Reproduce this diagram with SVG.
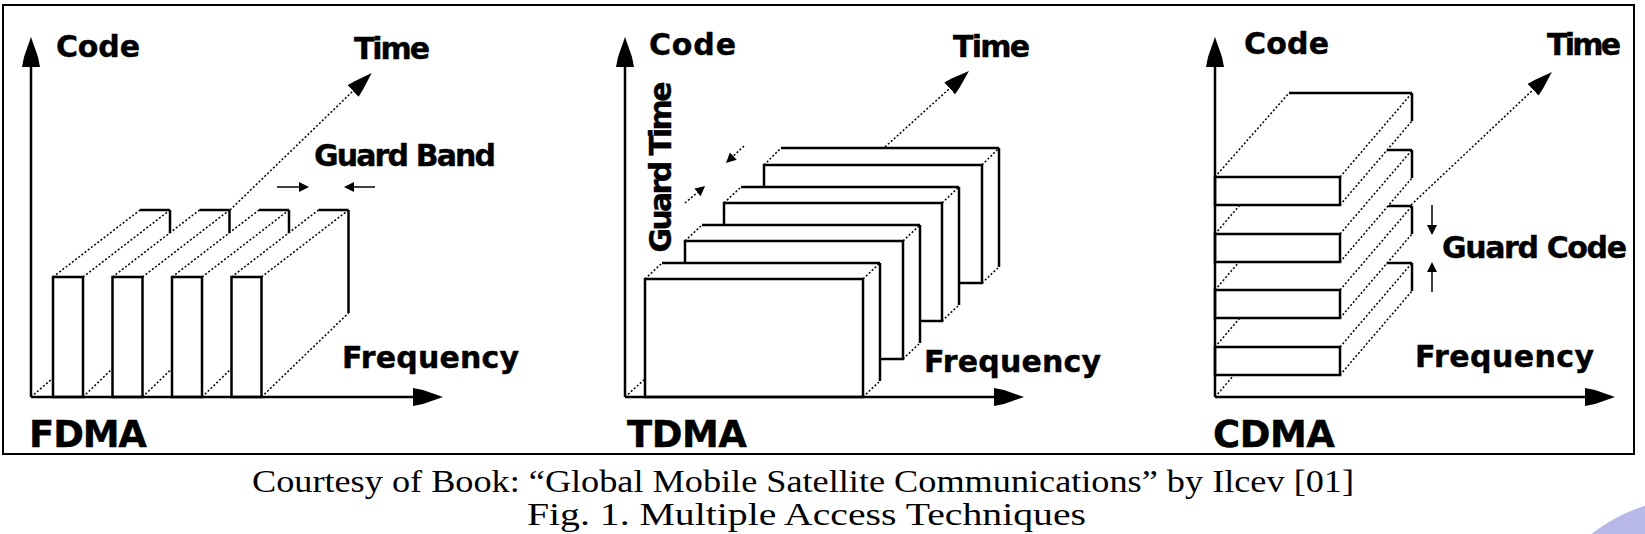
<svg xmlns="http://www.w3.org/2000/svg" width="1645" height="534" viewBox="0 0 1645 534">
<style>
.solid{stroke:#000;stroke-width:2.5;fill:none}
.ax{stroke:#000;stroke-width:2.5;fill:none}
.thin{stroke:#000;stroke-width:1.5;fill:none}
.dot{stroke:#000;stroke-width:1.5;stroke-dasharray:2 2;fill:none}
.face{fill:#fff;stroke:none}
.lbl{font-family:"DejaVu Sans",sans-serif;font-weight:bold;font-size:30px;fill:#000;stroke:#000;stroke-width:0.4}
.big{font-size:37px}
.cap{font-family:"Liberation Serif",serif;fill:#000}
</style>
<defs>
<marker id="axh" markerUnits="userSpaceOnUse" markerWidth="32" markerHeight="20" viewBox="0 -10 32 20" refX="0" refY="0" orient="auto"><path d="M0,-9 L10,-7 L30,0 L10,7 L0,9 Z" fill="#000"/></marker>
<marker id="tmh" markerUnits="userSpaceOnUse" markerWidth="28" markerHeight="18" viewBox="0 -9 28 18" refX="0" refY="0" orient="auto"><path d="M0,-8 L8,-6 L26,0 L8,6 L0,8 Z" fill="#000"/></marker>
<marker id="sh" markerUnits="userSpaceOnUse" markerWidth="12" markerHeight="12" viewBox="0 -6 12 12" refX="0" refY="0" orient="auto"><path d="M0,-5 L10,0 L0,5 Z" fill="#000"/></marker>
</defs>
<rect x="0" y="0" width="1645" height="534" fill="#fff"/>
<circle cx="1700" cy="675" r="178" fill="#b8b8e8"/>
<rect id="frame" x="3" y="5" width="1631" height="449" fill="#fff" stroke="#000" stroke-width="2"/>

<!-- FDMA -->
<g id="fdma">
<line class="dot" x1="31" y1="397" x2="53" y2="378"/>
<g id="fdma-box1">
<polygon class="face" points="53,397 53,277 140,210 170,210 170,313 83,397"/>
<line class="dot" x1="83" y1="397" x2="170" y2="313"/>
<line class="dot" x1="53" y1="277" x2="140" y2="210"/>
<line class="dot" x1="83" y1="277" x2="170" y2="210"/>
<line class="solid" x1="140" y1="210" x2="170" y2="210"/>
<line class="solid" x1="170" y1="210" x2="170" y2="313"/>
<rect class="solid" x="53" y="277" width="30" height="120"/>
</g>
<g id="fdma-box2">
<polygon class="face" points="112.5,397 112.5,277 199.5,210 229.5,210 229.5,313 142.5,397"/>
<line class="dot" x1="142.5" y1="397" x2="229.5" y2="313"/>
<line class="dot" x1="112.5" y1="277" x2="199.5" y2="210"/>
<line class="dot" x1="142.5" y1="277" x2="229.5" y2="210"/>
<line class="solid" x1="199.5" y1="210" x2="229.5" y2="210"/>
<line class="solid" x1="229.5" y1="210" x2="229.5" y2="313"/>
<rect class="solid" x="112.5" y="277" width="30" height="120"/>
</g>
<g id="fdma-box3">
<polygon class="face" points="172,397 172,277 259,210 289,210 289,313 202,397"/>
<line class="dot" x1="202" y1="397" x2="289" y2="313"/>
<line class="dot" x1="172" y1="277" x2="259" y2="210"/>
<line class="dot" x1="202" y1="277" x2="289" y2="210"/>
<line class="solid" x1="259" y1="210" x2="289" y2="210"/>
<line class="solid" x1="289" y1="210" x2="289" y2="313"/>
<rect class="solid" x="172" y="277" width="30" height="120"/>
</g>
<g id="fdma-box4">
<polygon class="face" points="231.5,397 231.5,277 318.5,210 348.5,210 348.5,313 261.5,397"/>
<line class="dot" x1="261.5" y1="397" x2="348.5" y2="313"/>
<line class="dot" x1="231.5" y1="277" x2="318.5" y2="210"/>
<line class="dot" x1="261.5" y1="277" x2="348.5" y2="210"/>
<line class="solid" x1="318.5" y1="210" x2="348.5" y2="210"/>
<line class="solid" x1="348.5" y1="210" x2="348.5" y2="313"/>
<rect class="solid" x="231.5" y="277" width="30" height="120"/>
</g>
<text class="lbl" x="56" y="57" textLength="84">Code</text>
<text class="lbl" x="354" y="59" textLength="76">Time</text>
<text class="lbl" x="314" y="166" textLength="182">Guard Band</text>
<text class="lbl" x="342" y="368" textLength="177">Frequency</text>
<text class="lbl big" x="29" y="447" textLength="118">FDMA</text>
</g>

<!-- TDMA -->
<g id="tdma">
<line class="dot" x1="625" y1="397" x2="645" y2="379"/>
<g id="tdma-box4">
<polygon class="face" points="764,283 764,165 781,148 999,148 999,267 982,283"/>
<line class="dot" x1="764" y1="165" x2="781" y2="148"/>
<line class="dot" x1="982" y1="165" x2="999" y2="148"/>
<line class="dot" x1="982" y1="283" x2="999" y2="267"/>
<line class="solid" x1="781" y1="148" x2="999" y2="148"/>
<line class="solid" x1="999" y1="148" x2="999" y2="267"/>
<rect class="solid" x="764" y="165" width="218" height="118"/>
</g>
<g id="tdma-box3">
<polygon class="face" points="724,321 724,203 741,187 959,187 959,305 942,321"/>
<line class="dot" x1="724" y1="203" x2="741" y2="187"/>
<line class="dot" x1="942" y1="203" x2="959" y2="187"/>
<line class="dot" x1="942" y1="321" x2="959" y2="305"/>
<line class="solid" x1="741" y1="187" x2="959" y2="187"/>
<line class="solid" x1="959" y1="187" x2="959" y2="305"/>
<rect class="solid" x="724" y="203" width="218" height="118"/>
</g>
<g id="tdma-box2">
<polygon class="face" points="685,359 685,241 702,225 920,225 920,343 903,359"/>
<line class="dot" x1="685" y1="241" x2="702" y2="225"/>
<line class="dot" x1="903" y1="241" x2="920" y2="225"/>
<line class="dot" x1="903" y1="359" x2="920" y2="343"/>
<line class="solid" x1="702" y1="225" x2="920" y2="225"/>
<line class="solid" x1="920" y1="225" x2="920" y2="343"/>
<rect class="solid" x="685" y="241" width="218" height="118"/>
</g>
<g id="tdma-box1">
<polygon class="face" points="645,397 645,279 662,263 880,263 880,381 863,397"/>
<line class="dot" x1="645" y1="279" x2="662" y2="263"/>
<line class="dot" x1="863" y1="279" x2="880" y2="263"/>
<line class="dot" x1="863" y1="397" x2="880" y2="381"/>
<line class="solid" x1="662" y1="263" x2="880" y2="263"/>
<line class="solid" x1="880" y1="263" x2="880" y2="381"/>
<rect class="solid" x="645" y="279" width="218" height="118"/>
</g>
<text class="lbl" x="649" y="55" textLength="87">Code</text>
<text class="lbl" x="953" y="57" textLength="77">Time</text>
<text class="lbl" x="924" y="372" textLength="177">Frequency</text>
<text class="lbl" transform="translate(671,167) rotate(-90)" text-anchor="middle" textLength="171">Guard Time</text>
<text class="lbl big" x="627" y="447" textLength="120">TDMA</text>
</g>

<!-- CDMA -->
<g id="cdma">
<line class="dot" x1="1215" y1="397" x2="1240" y2="368"/>
<g id="cdma-slab4">
<polygon class="face" points="1215,375 1215,347 1287,263 1412,263 1412,291 1340,375"/>
<line class="dot" x1="1215" y1="347" x2="1287" y2="263"/>
<line class="dot" x1="1340" y1="347" x2="1412" y2="263"/>
<line class="dot" x1="1340" y1="375" x2="1412" y2="291"/>
<line class="solid" x1="1287" y1="263" x2="1412" y2="263"/>
<line class="solid" x1="1412" y1="263" x2="1412" y2="291"/>
<rect class="solid" x="1215" y="347" width="125" height="28"/>
</g>
<g id="cdma-slab3">
<polygon class="face" points="1215,318 1215,290 1287,206 1412,206 1412,234 1340,318"/>
<line class="dot" x1="1215" y1="290" x2="1287" y2="206"/>
<line class="dot" x1="1340" y1="290" x2="1412" y2="206"/>
<line class="dot" x1="1340" y1="318" x2="1412" y2="234"/>
<line class="solid" x1="1287" y1="206" x2="1412" y2="206"/>
<line class="solid" x1="1412" y1="206" x2="1412" y2="234"/>
<rect class="solid" x="1215" y="290" width="125" height="28"/>
</g>
<g id="cdma-slab2">
<polygon class="face" points="1215,262 1215,234 1287,150 1412,150 1412,178 1340,262"/>
<line class="dot" x1="1215" y1="234" x2="1287" y2="150"/>
<line class="dot" x1="1340" y1="234" x2="1412" y2="150"/>
<line class="dot" x1="1340" y1="262" x2="1412" y2="178"/>
<line class="solid" x1="1287" y1="150" x2="1412" y2="150"/>
<line class="solid" x1="1412" y1="150" x2="1412" y2="178"/>
<rect class="solid" x="1215" y="234" width="125" height="28"/>
</g>
<g id="cdma-slab1">
<polygon class="face" points="1215,205 1215,177 1289,93 1412,93 1412,121 1340,205"/>
<line class="dot" x1="1215" y1="177" x2="1289" y2="93"/>
<line class="dot" x1="1340" y1="177" x2="1412" y2="93"/>
<line class="dot" x1="1340" y1="205" x2="1412" y2="121"/>
<line class="solid" x1="1289" y1="93" x2="1412" y2="93"/>
<line class="solid" x1="1412" y1="93" x2="1412" y2="121"/>
<rect class="solid" x="1215" y="177" width="125" height="28"/>
</g>
<text class="lbl" x="1244" y="54" textLength="85">Code</text>
<text class="lbl" x="1547" y="55" textLength="74">Time</text>
<text class="lbl" x="1442" y="258" textLength="185">Guard Code</text>
<text class="lbl" x="1415" y="367" textLength="179">Frequency</text>
<text class="lbl big" x="1213" y="447" textLength="122">CDMA</text>
</g>

<g id="connectors">
<line class="ax" x1="31" y1="397" x2="31" y2="67" marker-end="url(#axh)"/>
<line class="ax" x1="31" y1="397" x2="413" y2="397" marker-end="url(#axh)"/>
<line class="dot" x1="230" y1="210" x2="353" y2="91" marker-end="url(#tmh)"/>
<line class="thin" x1="277" y1="187" x2="299" y2="187" marker-end="url(#sh)"/>
<line class="thin" x1="375" y1="187" x2="354" y2="187" marker-end="url(#sh)"/>

<line class="ax" x1="625" y1="397" x2="625" y2="67" marker-end="url(#axh)"/>
<line class="ax" x1="625" y1="397" x2="994" y2="397" marker-end="url(#axh)"/>
<line class="dot" x1="885" y1="147" x2="949.7" y2="88.4" marker-end="url(#tmh)"/>
<line class="dot" x1="744" y1="146" x2="733.3" y2="156.1" marker-end="url(#sh)"/>
<line class="dot" x1="685" y1="203" x2="697.4" y2="192.5" marker-end="url(#sh)"/>

<line class="ax" x1="1215" y1="397" x2="1215" y2="67" marker-end="url(#axh)"/>
<line class="ax" x1="1215" y1="397" x2="1585" y2="397" marker-end="url(#axh)"/>
<line class="dot" x1="1411" y1="205" x2="1533" y2="89.8" marker-end="url(#tmh)"/>
<line class="thin" x1="1432" y1="205" x2="1432" y2="225" marker-end="url(#sh)"/>
<line class="thin" x1="1432" y1="292" x2="1432" y2="272" marker-end="url(#sh)"/>
</g>

<g id="caption">
<text class="cap" x="252" y="492" font-size="32" textLength="1102" lengthAdjust="spacingAndGlyphs">Courtesy of Book: “Global Mobile Satellite Communications” by Ilcev [01]</text>
<text class="cap" x="527" y="525" font-size="32" textLength="559" lengthAdjust="spacingAndGlyphs">Fig. 1. Multiple Access Techniques</text>
</g>
</svg>
